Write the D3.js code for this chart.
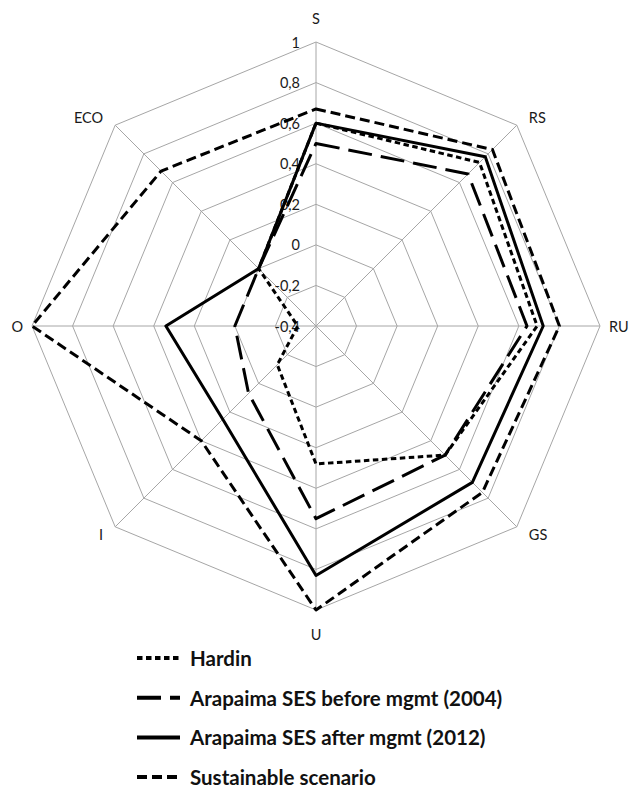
<!DOCTYPE html>
<html>
<head>
<meta charset="utf-8">
<script src="https://cdn.jsdelivr.net/npm/d3@7"></script>
<style>
  html, body { margin: 0; padding: 0; background: #fff; }
  svg { display: block; }
</style>
</head>
<body>
<svg id="chart"></svg>
<script>
// axes clockwise from the top
const axes = ["S", "RS", "RU", "GS", "U", "I", "O", "ECO"];
const ticks = [-0.4, -0.2, 0, 0.2, 0.4, 0.6, 0.8, 1];
const tickLabels = ["-0,4", "-0,2", "0", "0,2", "0,4", "0,6", "0,8", "1"];

const seriesNames = [
  "Hardin",
  "Arapaima SES before mgmt (2004)",
  "Arapaima SES after mgmt (2012)",
  "Sustainable scenario"
];
const hardin      = [0.60, 0.74, 0.69, 0.50, 0.28, -0.13, -0.31, 0.00];
const before2004  = [0.50, 0.66, 0.64, 0.50, 0.55, 0.07, 0.00, 0.00];
const after2012   = [0.60, 0.78, 0.72, 0.69, 0.83, 0.25, 0.34, 0.00];
const sustainable = [0.67, 0.83, 0.80, 0.76, 1.00, 0.40, 1.00, 0.68];

const seriesValues = [hardin, before2004, after2012, sustainable];
const seriesDash = ["5.5,3.5", "24,9", null, "10,5"];

const width = 630;
const height = 790;
const cx = 316;
const cy = 326;
const font = "Lato, 'Open Sans', sans-serif";

const svg = d3.select("#chart").attr("width", width).attr("height", height);

const r = d3.scaleLinear().domain([-0.4, 1]).range([0, 284]);
const angle = d3.scalePoint().domain(axes).range([0, 2 * Math.PI * 7 / 8]);

function pt(axis, v) {
  const a = angle(axis);
  return [cx + r(v) * Math.sin(a), cy - r(v) * Math.cos(a)];
}

// grid rings
const grid = svg.append("g").attr("stroke", "#a6a6a6").attr("stroke-width", 1).attr("fill", "none");
grid.selectAll("polygon")
  .data(ticks.slice(1))
  .join("polygon")
  .attr("points", (t) => axes.map((a) => pt(a, t).join(",")).join(" "));

// spokes
grid.selectAll("line")
  .data(axes)
  .join("line")
  .attr("x1", cx)
  .attr("y1", cy)
  .attr("x2", (a) => pt(a, 1)[0])
  .attr("y2", (a) => pt(a, 1)[1]);

// tick labels along the S spoke
svg.append("g")
  .selectAll("text")
  .data(ticks)
  .join("text")
  .attr("x", cx - 16)
  .attr("y", (t) => pt("S", t)[1])
  .attr("text-anchor", "end")
  .attr("dominant-baseline", "central")
  .attr("font-family", font)
  .attr("font-size", 14.5)
  .attr("fill", "#1a1a1a")
  .text((t, i) => tickLabels[i]);

// category labels
svg.append("g")
  .selectAll("text")
  .data(axes)
  .join("text")
  .each(function (a) {
    const ang = angle(a);
    const s = Math.sin(ang);
    const c = Math.cos(ang);
    const [x, y] = pt(a, 1);
    const dx = Math.abs(s) > 0.9 ? Math.sign(s) * 9 : Math.abs(s) > 0.1 ? Math.sign(s) * 12 : 0;
    const dy = Math.abs(c) > 0.9 ? -c * 24 : -c * 11;
    d3.select(this)
      .attr("x", x + dx)
      .attr("y", y + dy)
      .attr("text-anchor", s > 0.1 ? "start" : s < -0.1 ? "end" : "middle");
  })
  .attr("dominant-baseline", "central")
  .attr("font-family", font)
  .attr("font-size", 14.5)
  .attr("fill", "#1a1a1a")
  .text((a) => a);

// series
const line = d3.lineRadial()
  .angle((d, i) => angle(axes[i]))
  .radius((d) => r(d))
  .curve(d3.curveLinearClosed);

svg.append("g")
  .attr("transform", `translate(${cx},${cy})`)
  .selectAll("path")
  .data(seriesValues)
  .join("path")
  .attr("d", (d) => line(d))
  .attr("fill", "none")
  .attr("stroke", "#000")
  .attr("stroke-width", 3)
  .attr("stroke-linejoin", "round")
  .attr("stroke-dasharray", (d, i) => seriesDash[i]);

// legend
const legend = svg.append("g");
const rows = legend.selectAll("g")
  .data(seriesNames)
  .join("g")
  .attr("transform", (d, i) => `translate(137, ${658 + i * 39.7})`);

rows.append("line")
  .attr("x1", 0)
  .attr("x2", 43)
  .attr("stroke", "#000")
  .attr("stroke-width", 4)
  .attr("stroke-dasharray", (d, i) => seriesDash[i]);

rows.append("text")
  .attr("x", 53)
  .attr("dominant-baseline", "central")
  .attr("font-family", font)
  .attr("font-weight", "bold")
  .attr("font-size", 20.5)
  .attr("fill", "#111")
  .text((d) => d);
</script>
</body>
</html>
